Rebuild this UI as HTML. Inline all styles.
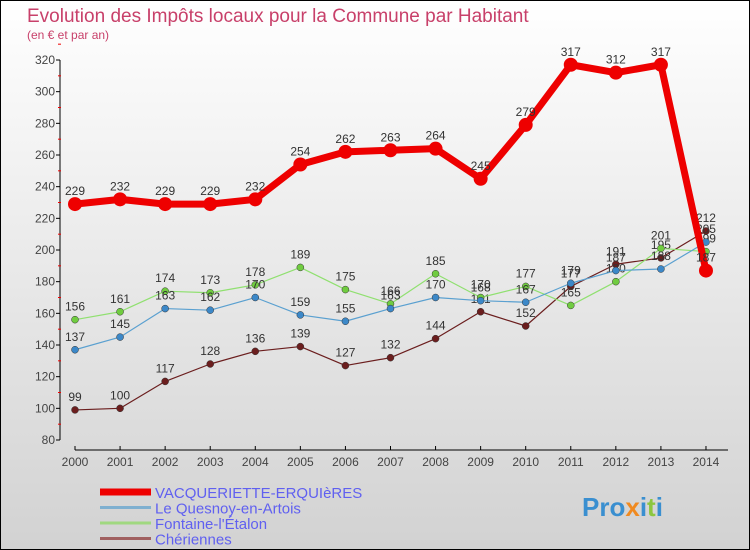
<!DOCTYPE html>
<html><head><meta charset="utf-8"><style>
body{margin:0;width:750px;height:550px;overflow:hidden;font-family:"Liberation Sans",sans-serif}
svg{display:block}
</style></head><body>
<svg id="chart" width="750" height="550" viewBox="0 0 750 550" xmlns="http://www.w3.org/2000/svg">
<defs><linearGradient id="bg" x1="0" y1="0" x2="0" y2="1"><stop offset="0" stop-color="#ffffff"/><stop offset="1" stop-color="#d2d2d2"/></linearGradient></defs>
<rect x="0.5" y="0.5" width="749" height="549" fill="url(#bg)" stroke="#000"/>
<text x="27" y="22" font-size="19" fill="#c8406a">Evolution des Impôts locaux pour la Commune par Habitant</text>
<text x="27" y="39" font-size="12" fill="#c8406a">(en € et par an)</text>
<g id="axes"></g>
<g id="series"></g>
<g id="legend"></g>
<text x="582" y="516" font-size="26" font-weight="bold" fill="#3a8fd0">Pro<tspan fill="#f08a20">x</tspan><tspan fill="#3a8fd0">i</tspan><tspan fill="#8cc63f">t</tspan><tspan fill="#3a8fd0">i</tspan></text>
</svg>
<script>
const years=[2000,2001,2002,2003,2004,2005,2006,2007,2008,2009,2010,2011,2012,2013,2014];
const yTicks=[80,100,120,140,160,180,200,220,240,260,280,300,320];
const vacq=[229,232,229,229,232,254,262,263,264,245,279,317,312,317,187];
const quesnoy=[137,145,163,162,170,159,155,163,170,168,167,179,187,188,205];
const fontaine=[156,161,174,173,178,189,175,166,185,170,177,165,180,201,199];
const cheriennes=[99,100,117,128,136,139,127,132,144,161,152,177,191,195,212];
const names=["VACQUERIETTE-ERQUIèRES","Le Quesnoy-en-Artois","Fontaine-l'Étalon","Chériennes"];
const NS="http://www.w3.org/2000/svg";
const x=i=>75+i*45.07;
const y=v=>440-(v-80)*380/240;
function mk(p,t,a){const e=document.createElementNS(NS,t);for(const k in a)e.setAttribute(k,a[k]);p.appendChild(e);return e;}
const ax=document.getElementById('axes');
let l=mk(ax,'line',{x1:60,y1:60,x2:60,y2:440,stroke:'#000'});


l=mk(ax,'line',{x1:75,y1:450,x2:728,y2:450,stroke:'#000'});


yTicks.forEach(v=>{
 mk(ax,'line',{x1:56,x2:60,y1:y(v),y2:y(v),stroke:'#000'});
 mk(ax,'line',{x1:58,x2:61,y1:y(v+10),y2:y(v+10),stroke:'#e00'});
 const t=mk(ax,'text',{x:55,y:y(v)+4,'text-anchor':'end','font-size':12,fill:'#444'});
 t.textContent=v;
 
 
});
years.forEach((yr,i)=>{
 mk(ax,'line',{x1:x(i),x2:x(i),y1:446,y2:450,stroke:'#000'});
 const t=mk(ax,'text',{x:x(i),y:466,'text-anchor':'middle','font-size':12,fill:'#444'});
 t.textContent=yr;
 
 
});
const sg=document.getElementById('series');
const defs=[[cheriennes,'#6b1e1e','#6b1e1e',1.2,3.5,'cheriennes'],[fontaine,'#90e070','#70cc40',1.2,3.5,'fontaine'],[quesnoy,'#5aa0d0','#3c88c8',1.2,3.5,'quesnoy'],[vacq,'#ee0000','#ee0000',7,7,'vacquieriette']];
defs.forEach(([d,c,dc,w,r,n])=>{
 const g=mk(sg,'g',{});
 
 
 const p=mk(g,'polyline',{points:d.map((v,i)=>x(i)+','+y(v)).join(' '),fill:'none',stroke:c,'stroke-width':w,'stroke-linejoin':'round'});
 
 
 d.forEach((v,i)=>{
  const ci=mk(g,'circle',{cx:x(i),cy:y(v),r:r,fill:dc,stroke:r<5?'#333':'none','stroke-width':0.5});
  
  
  const t=mk(g,'text',{x:x(i),y:y(v)-9,'text-anchor':'middle','font-size':12,fill:'#333'});
  t.textContent=v;
  
  
 });
});
const lg=document.getElementById('legend');
const lc=['#ee0000','#7fb0d0','#a0d880','#a06060'];
const lw=[7,3,3,3];
names.forEach((nm,i)=>{
 const yy=492+i*15.5;
 const e=mk(lg,'line',{x1:100,x2:151,y1:yy,y2:yy,stroke:lc[i],'stroke-width':lw[i]});
 
 
 const t=mk(lg,'text',{x:155,y:yy+6,'font-size':15,fill:'#6060f0'});
 t.textContent=nm;
 
 
});
</script>
</body></html>
